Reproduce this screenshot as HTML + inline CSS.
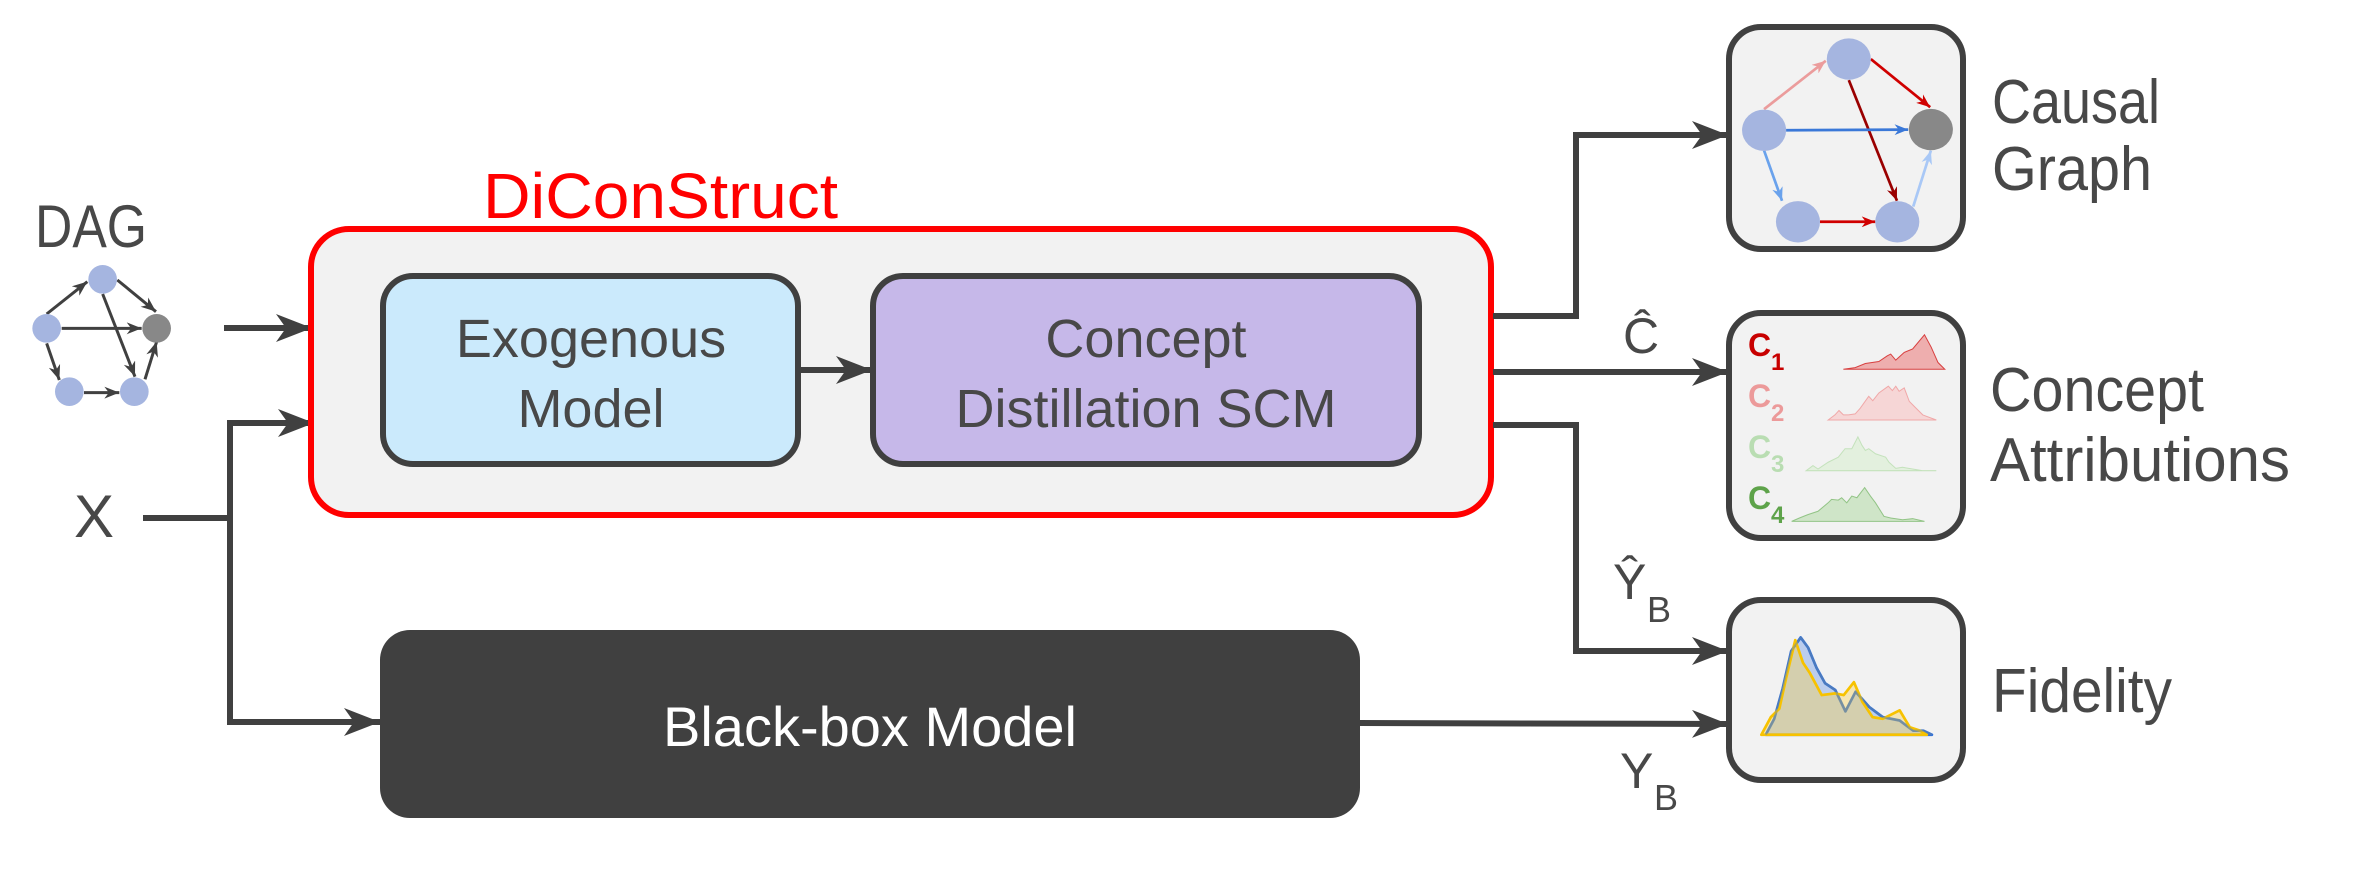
<!DOCTYPE html>
<html><head><meta charset="utf-8"><style>
html,body{margin:0;padding:0;background:#fff;}
svg{display:block;}
text{font-family:"Liberation Sans",sans-serif;}
</style></head><body>
<svg width="2353" height="872" viewBox="0 0 2353 872" xmlns="http://www.w3.org/2000/svg">
<defs>
<marker id="ah" viewBox="0 0 20 16" refX="20" refY="8" markerWidth="20" markerHeight="16" markerUnits="userSpaceOnUse" orient="auto"><path d="M0,0 L20,8 L0,16 L6,8 z" fill="#404040"/></marker>
<marker id="big" viewBox="0 0 36 28" refX="36" refY="14" markerWidth="36" markerHeight="28" markerUnits="userSpaceOnUse" orient="auto"><path d="M0,0 L36,14 L0,28 L10,14 z" fill="#404040"/></marker>
<marker id="mp" viewBox="0 0 10 8" refX="10" refY="4" markerWidth="5" markerHeight="4" orient="auto"><path d="M0,0 L10,4 L0,8 L3,4 z" fill="#eb9c9c"/></marker>
<marker id="mr" viewBox="0 0 10 8" refX="10" refY="4" markerWidth="5" markerHeight="4" orient="auto"><path d="M0,0 L10,4 L0,8 L3,4 z" fill="#d00000"/></marker>
<marker id="md" viewBox="0 0 10 8" refX="10" refY="4" markerWidth="5" markerHeight="4" orient="auto"><path d="M0,0 L10,4 L0,8 L3,4 z" fill="#9a0000"/></marker>
<marker id="mb" viewBox="0 0 10 8" refX="10" refY="4" markerWidth="5" markerHeight="4" orient="auto"><path d="M0,0 L10,4 L0,8 L3,4 z" fill="#3a78d8"/></marker>
<marker id="mb2" viewBox="0 0 10 8" refX="10" refY="4" markerWidth="5" markerHeight="4" orient="auto"><path d="M0,0 L10,4 L0,8 L3,4 z" fill="#6aa2ec"/></marker>
<marker id="mb3" viewBox="0 0 10 8" refX="10" refY="4" markerWidth="5" markerHeight="4" orient="auto"><path d="M0,0 L10,4 L0,8 L3,4 z" fill="#a9c8f6"/></marker>
<marker id="mk" viewBox="0 0 10 8" refX="10" refY="4" markerWidth="5" markerHeight="4" orient="auto"><path d="M0,0 L10,4 L0,8 L3,4 z" fill="#404040"/></marker>
</defs>

<!-- DAG -->
<text x="35" y="247" font-size="60" fill="#484848" textLength="112" lengthAdjust="spacingAndGlyphs">DAG</text>
<g transform="translate(0,240) scale(0.3333)" stroke="#404040" stroke-width="9" fill="none">
<line x1="140" y1="222" x2="262" y2="125" marker-end="url(#mk)"/>
<line x1="352" y1="120" x2="468" y2="215" marker-end="url(#mk)"/>
<line x1="185" y1="265" x2="425" y2="265" marker-end="url(#mk)"/>
<line x1="308" y1="162" x2="405" y2="410" marker-end="url(#mk)"/>
<line x1="140" y1="310" x2="178" y2="420" marker-end="url(#mk)"/>
<line x1="252" y1="458" x2="358" y2="458" marker-end="url(#mk)"/>
<line x1="435" y1="418" x2="470" y2="305" marker-end="url(#mk)"/>
<g stroke="none"><circle cx="308" cy="118" r="43" fill="#a5b5e0"/><circle cx="140" cy="265" r="43" fill="#a5b5e0"/><circle cx="470" cy="265" r="43" fill="#888"/><circle cx="208" cy="455" r="43" fill="#a5b5e0"/><circle cx="403" cy="455" r="43" fill="#a5b5e0"/></g>
</g>

<!-- X -->
<text x="74" y="537" font-size="60" fill="#484848">X</text>

<!-- connectors left -->
<g stroke="#404040" stroke-width="6" fill="none">
<line x1="224" y1="328" x2="312" y2="328" marker-end="url(#big)"/>
<line x1="143" y1="518" x2="230" y2="518"/>
<polyline points="230,720 230,423 314,423" marker-end="url(#big)"/>
<polyline points="230,715 230,722 380,722" marker-end="url(#big)"/>
</g>

<!-- DiConStruct -->
<text x="483" y="218" font-size="64" fill="#ff0000" textLength="355" lengthAdjust="spacingAndGlyphs">DiConStruct</text>
<rect x="311" y="229" width="1180" height="286" rx="38" fill="#f2f2f2" stroke="#ff0000" stroke-width="6"/>
<rect x="383" y="276" width="415" height="188" rx="30" fill="#cbeafc" stroke="#404040" stroke-width="6"/>
<rect x="873" y="276" width="546" height="188" rx="30" fill="#c6b8e9" stroke="#404040" stroke-width="6"/>
<line x1="798" y1="370" x2="872" y2="370" stroke="#404040" stroke-width="6" marker-end="url(#big)"/>
<g fill="#484848" font-size="54" text-anchor="middle">
<text x="591" y="357">Exogenous</text>
<text x="591" y="427">Model</text>
<text x="1146" y="357">Concept</text>
<text x="1146" y="427">Distillation SCM</text>
</g>

<!-- Black box -->
<rect x="380" y="630" width="980" height="188" rx="30" fill="#404040"/>
<text x="870" y="746" font-size="56" fill="#fff" text-anchor="middle">Black-box Model</text>

<!-- connectors right -->
<g stroke="#404040" stroke-width="6" fill="none">
<polyline points="1493,316 1576,316 1576,135 1728,135" marker-end="url(#big)"/>
<line x1="1493" y1="372" x2="1728" y2="372" marker-end="url(#big)"/>
<polyline points="1493,425 1576,425 1576,651 1728,651" marker-end="url(#big)"/>
<line x1="1360" y1="723" x2="1728" y2="724" marker-end="url(#big)"/>
</g>
<g fill="#484848">
<text x="1623" y="353" font-size="50">Ĉ</text>
<text x="1613" y="599" font-size="50">Ŷ</text><text x="1647" y="622" font-size="36">B</text>
<text x="1620" y="788" font-size="50">Y</text><text x="1654" y="810" font-size="36">B</text>
</g>

<!-- right boxes -->
<rect x="1729" y="27" width="234" height="222" rx="32" fill="#f2f2f2" stroke="#404040" stroke-width="6"/>
<rect x="1729" y="313" width="234" height="225" rx="32" fill="#f2f2f2" stroke="#404040" stroke-width="6"/>
<rect x="1729" y="600" width="234" height="180" rx="32" fill="#f2f2f2" stroke="#404040" stroke-width="6"/>

<!-- causal graph -->
<g transform="translate(1720,15) scale(0.339)" fill="none" stroke-width="8">
<line x1="130" y1="278" x2="312" y2="135" stroke="#eb9c9c" marker-end="url(#mp)"/>
<line x1="445" y1="130" x2="620" y2="272" stroke="#d00000" marker-end="url(#mr)"/>
<line x1="380" y1="192" x2="522" y2="548" stroke="#9a0000" marker-end="url(#md)"/>
<line x1="195" y1="340" x2="555" y2="338" stroke="#3a78d8" marker-end="url(#mb)"/>
<line x1="130" y1="400" x2="183" y2="548" stroke="#6aa2ec" marker-end="url(#mb2)"/>
<line x1="295" y1="610" x2="458" y2="610" stroke="#d00000" marker-end="url(#mr)"/>
<line x1="570" y1="565" x2="622" y2="400" stroke="#a9c8f6" marker-end="url(#mb3)"/>
<g stroke="none">
<ellipse cx="380" cy="130" rx="65" ry="61" fill="#a5b5e0"/>
<ellipse cx="130" cy="340" rx="65" ry="61" fill="#a5b5e0"/>
<ellipse cx="622" cy="338" rx="65" ry="61" fill="#888"/>
<ellipse cx="230" cy="610" rx="65" ry="61" fill="#a5b5e0"/>
<ellipse cx="523" cy="610" rx="65" ry="61" fill="#a5b5e0"/>
</g>
</g>

<!-- concept attributions -->
<g transform="translate(1720,300) scale(0.338)" stroke-width="3">
<polygon points="365,205 400,200 430,188 470,182 495,165 505,160 520,178 545,155 570,145 605,103 625,140 645,185 665,205" fill="#eeaeae" stroke="#d84040"/>
<polygon points="320,355 340,340 352,327 365,340 380,340 400,337 415,320 440,285 452,298 470,275 498,255 510,268 520,255 530,270 545,260 560,300 575,315 600,340 640,355" fill="#f6d6d6" stroke="#f0a8a8"/>
<polygon points="255,505 275,490 290,500 320,480 350,465 370,440 390,440 408,405 420,430 430,445 440,440 460,455 490,465 500,480 520,498 540,495 570,500 600,505 640,505" fill="#e3f0de" stroke="#c4e2bc"/>
<polygon points="212,655 235,645 260,635 290,625 320,600 330,590 350,592 360,585 375,600 390,580 405,585 428,555 445,580 460,600 485,640 505,645 540,650 570,647 605,655" fill="#cfe5c8" stroke="#92c486"/>
</g>
<g font-weight="bold">
<text x="1748" y="356" font-size="32" fill="#c80000">C</text><text x="1771" y="370" font-size="24" fill="#c80000">1</text>
<text x="1748" y="407" font-size="32" fill="#ec9a9a">C</text><text x="1771" y="421" font-size="24" fill="#ec9a9a">2</text>
<text x="1748" y="458" font-size="32" fill="#b9ddb2">C</text><text x="1771" y="472" font-size="24" fill="#b9ddb2">3</text>
<text x="1748" y="509" font-size="32" fill="#5ea34a">C</text><text x="1771" y="523" font-size="24" fill="#5ea34a">4</text>
</g>

<!-- fidelity -->
<g transform="translate(1720,590) scale(0.339)" stroke-width="8" stroke-linejoin="round">
<polygon points="135,427 160,380 185,290 210,180 238,140 260,170 285,230 310,275 340,295 370,358 400,300 440,345 480,375 530,385 570,415 600,415 625,427" fill="rgba(120,160,230,0.45)" stroke="#2f6fdb"/>
<polygon points="122,427 150,375 175,350 195,260 222,148 245,215 265,245 300,310 340,305 365,310 395,272 420,330 450,375 480,380 530,355 560,405 590,415 610,427" fill="rgba(250,210,80,0.4)" stroke="#f7c200"/>
<polyline points="135,427 160,380 185,290 210,180 238,140 260,170 285,230 310,275 340,295 370,358 400,300 440,345 480,375 530,385 570,415 600,415 625,427" fill="none" stroke="#6a88a0" stroke-width="6" opacity="0.5"/>
</g>

<!-- right labels -->
<g fill="#484848" font-size="62">
<text x="1992" y="123" textLength="168" lengthAdjust="spacingAndGlyphs">Causal</text>
<text x="1992" y="190" textLength="160" lengthAdjust="spacingAndGlyphs">Graph</text>
<text x="1990" y="411" textLength="214" lengthAdjust="spacingAndGlyphs">Concept</text>
<text x="1990" y="481" textLength="300" lengthAdjust="spacingAndGlyphs">Attributions</text>
<text x="1992" y="712" textLength="180" lengthAdjust="spacingAndGlyphs">Fidelity</text>
</g>
</svg>
</body></html>
